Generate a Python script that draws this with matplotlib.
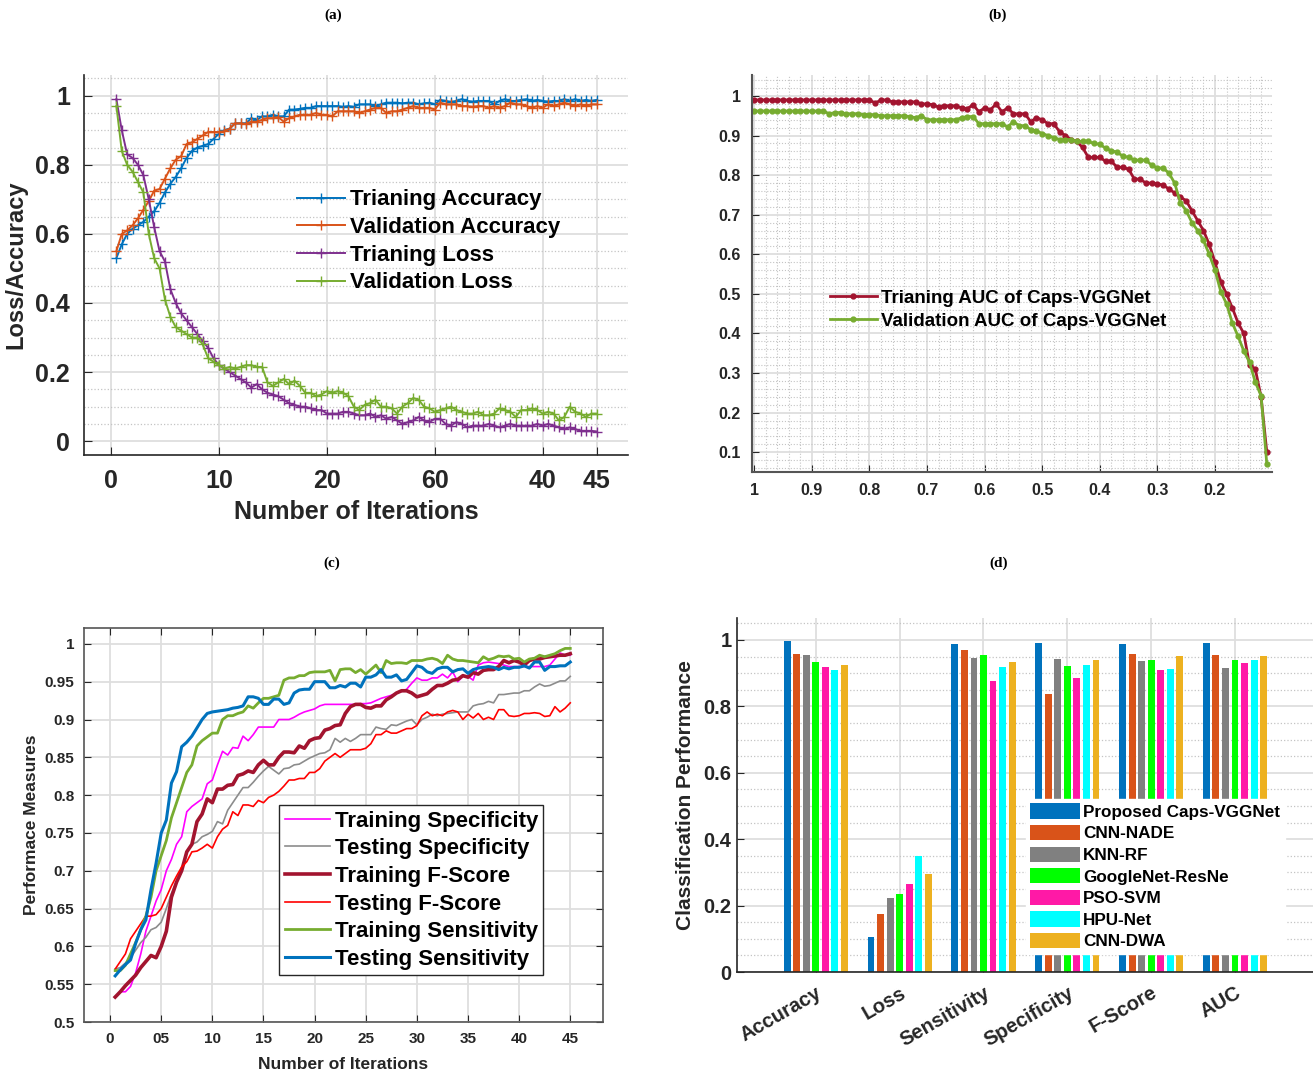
import numpy as np
import matplotlib
matplotlib.use("Agg")
import matplotlib.pyplot as plt
from matplotlib.ticker import MultipleLocator

plt.rcParams['font.family'] = ['Liberation Sans', 'DejaVu Sans']
plt.rcParams['font.weight'] = 'bold'
plt.rcParams['axes.labelweight'] = 'bold'

TXT = '#262626'
GRID = '#dedede'
MINOR = '#c4c4c4'

# ---------------- (a) loss / accuracy ----------------
iters = np.arange(0.5, 45.01, 0.5)
a_xticks = [0, 10, 20, 30, 40, 45]
a_xticklabels = ['0', '10', '20', '60', '40', '45']

train_acc = [0.53, 0.57, 0.60, 0.615, 0.625, 0.635, 0.65, 0.665, 0.69, 0.72,
             0.745, 0.765, 0.79, 0.82, 0.84, 0.85, 0.855, 0.86, 0.875, 0.89,
             0.90, 0.905, 0.92, 0.92, 0.92, 0.935, 0.93, 0.94, 0.94, 0.945,
             0.94, 0.94, 0.96, 0.96, 0.962, 0.965, 0.965, 0.97, 0.97, 0.97,
             0.97, 0.97, 0.968, 0.97, 0.968, 0.975, 0.975, 0.975, 0.97, 0.975,
             0.98, 0.98, 0.98, 0.978, 0.98, 0.98, 0.975, 0.978, 0.98, 0.975,
             0.988, 0.985, 0.982, 0.985, 0.99, 0.985, 0.983, 0.985, 0.985, 0.985,
             0.975, 0.985, 0.99, 0.985, 0.985, 0.988, 0.99, 0.985, 0.988, 0.985,
             0.983, 0.985, 0.985, 0.99, 0.985, 0.99, 0.985, 0.988, 0.985, 0.988]
val_acc = [0.55, 0.60, 0.61, 0.625, 0.645, 0.67, 0.695, 0.725, 0.73, 0.76,
           0.79, 0.815, 0.825, 0.86, 0.865, 0.875, 0.885, 0.895, 0.895, 0.895,
           0.897, 0.905, 0.92, 0.92, 0.918, 0.925, 0.925, 0.93, 0.935, 0.935,
           0.938, 0.925, 0.935, 0.94, 0.945, 0.945, 0.945, 0.95, 0.945, 0.945,
           0.94, 0.955, 0.955, 0.955, 0.955, 0.95, 0.955, 0.96, 0.965, 0.965,
           0.95, 0.955, 0.955, 0.96, 0.965, 0.97, 0.965, 0.965, 0.965, 0.96,
           0.98, 0.975, 0.975, 0.975, 0.97, 0.97, 0.968, 0.97, 0.97, 0.965,
           0.97, 0.965, 0.97, 0.98, 0.975, 0.975, 0.97, 0.965, 0.97, 0.965,
           0.975, 0.97, 0.975, 0.98, 0.975, 0.97, 0.975, 0.97, 0.975, 0.975]
train_loss = [0.99, 0.90, 0.83, 0.82, 0.80, 0.77, 0.70, 0.62, 0.55, 0.52,
              0.44, 0.40, 0.37, 0.35, 0.33, 0.31, 0.29, 0.27, 0.24, 0.22,
              0.21, 0.20, 0.19, 0.18, 0.17, 0.155, 0.165, 0.15, 0.14, 0.135,
              0.13, 0.12, 0.11, 0.105, 0.10, 0.10, 0.095, 0.09, 0.09, 0.08,
              0.08, 0.08, 0.085, 0.085, 0.08, 0.075, 0.075, 0.08, 0.07, 0.075,
              0.065, 0.07, 0.06, 0.05, 0.055, 0.06, 0.07, 0.06, 0.055, 0.065,
              0.065, 0.05, 0.045, 0.055, 0.05, 0.04, 0.045, 0.045, 0.045, 0.05,
              0.045, 0.04, 0.045, 0.05, 0.045, 0.045, 0.045, 0.045, 0.05, 0.045,
              0.05, 0.045, 0.04, 0.035, 0.04, 0.035, 0.03, 0.03, 0.03, 0.028]
val_loss = [0.97, 0.84, 0.80, 0.78, 0.75, 0.72, 0.60, 0.53, 0.50, 0.41,
            0.36, 0.33, 0.32, 0.31, 0.30, 0.30, 0.28, 0.24, 0.23, 0.22,
            0.21, 0.215, 0.21, 0.215, 0.22, 0.22, 0.215, 0.215, 0.17, 0.16,
            0.17, 0.18, 0.165, 0.175, 0.16, 0.14, 0.14, 0.13, 0.135, 0.145,
            0.14, 0.145, 0.14, 0.13, 0.10, 0.09, 0.105, 0.11, 0.12, 0.10,
            0.10, 0.095, 0.08, 0.10, 0.11, 0.125, 0.12, 0.10, 0.095, 0.085,
            0.09, 0.095, 0.10, 0.09, 0.085, 0.08, 0.08, 0.085, 0.075, 0.075,
            0.08, 0.095, 0.09, 0.085, 0.07, 0.09, 0.09, 0.095, 0.09, 0.08,
            0.085, 0.08, 0.06, 0.07, 0.10, 0.085, 0.08, 0.07, 0.08, 0.08]

# ---------------- (b) AUC ----------------
thresholds = np.round(np.arange(1.0, 0.105, -0.01), 2)
train_auc = [0.99, 0.99, 0.99, 0.99, 0.99, 0.99, 0.99, 0.99, 0.99, 0.99,
             0.99, 0.99, 0.99, 0.99, 0.99, 0.99, 0.99, 0.99, 0.99, 0.99,
             0.99, 0.982, 0.99, 0.99, 0.985, 0.985, 0.985, 0.985, 0.985, 0.98,
             0.98, 0.978, 0.972, 0.975, 0.975, 0.975, 0.97, 0.968, 0.978, 0.96,
             0.97, 0.965, 0.98, 0.96, 0.97, 0.955, 0.955, 0.955, 0.935, 0.945,
             0.94, 0.93, 0.93, 0.91, 0.90, 0.89, 0.885, 0.87, 0.845, 0.845,
             0.845, 0.835, 0.835, 0.82, 0.82, 0.815, 0.79, 0.79, 0.78, 0.78,
             0.778, 0.775, 0.765, 0.755, 0.745, 0.735, 0.71, 0.685, 0.66, 0.625,
             0.58, 0.53, 0.50, 0.465, 0.427, 0.40, 0.32, 0.31, 0.24, 0.10]
val_auc = [0.962, 0.962, 0.962, 0.962, 0.962, 0.962, 0.962, 0.962, 0.962, 0.962,
           0.962, 0.962, 0.962, 0.955, 0.958, 0.958, 0.955, 0.955, 0.955, 0.953,
           0.953, 0.953, 0.95, 0.95, 0.95, 0.95, 0.95, 0.948, 0.945, 0.95,
           0.94, 0.94, 0.94, 0.94, 0.94, 0.94, 0.945, 0.948, 0.948, 0.93,
           0.93, 0.93, 0.93, 0.93, 0.922, 0.935, 0.925, 0.925, 0.915, 0.912,
           0.905, 0.90, 0.895, 0.89, 0.89, 0.89, 0.885, 0.885, 0.885, 0.88,
           0.878, 0.868, 0.862, 0.858, 0.848, 0.845, 0.838, 0.838, 0.838, 0.825,
           0.818, 0.818, 0.805, 0.78, 0.73, 0.71, 0.68, 0.66, 0.635, 0.60,
           0.56, 0.506, 0.475, 0.427, 0.393, 0.356, 0.327, 0.277, 0.243, 0.07]

# ---------------- (c) performance measures ----------------
c_xticks = [0, 5, 10, 15, 20, 25, 30, 35, 40, 45]
c_xticklabels = ['0', '05', '10', '15', '20', '25', '30', '35', '40', '45']

train_spec = [0.533, 0.54, 0.54, 0.547, 0.565, 0.59, 0.62, 0.64, 0.66, 0.675,
              0.70, 0.715, 0.735, 0.745, 0.778, 0.785, 0.79, 0.795, 0.815, 0.82,
              0.84, 0.858, 0.853, 0.863, 0.862, 0.878, 0.872, 0.88, 0.89, 0.89,
              0.89, 0.89, 0.90, 0.90, 0.90, 0.903, 0.907, 0.91, 0.912, 0.914,
              0.918, 0.92, 0.92, 0.92, 0.92, 0.92, 0.92, 0.92, 0.921, 0.921,
              0.922, 0.925, 0.928, 0.93, 0.932, 0.935, 0.937, 0.94, 0.948, 0.955,
              0.952, 0.952, 0.955, 0.955, 0.96, 0.955, 0.963, 0.95, 0.957, 0.957,
              0.952, 0.972, 0.975, 0.976, 0.975, 0.974, 0.972, 0.97, 0.97, 0.97,
              0.97, 0.97, 0.97, 0.97, 0.97, 0.972, 0.98, 0.988, 0.985, 0.985]
test_spec = [0.57, 0.572, 0.578, 0.585, 0.595, 0.605, 0.612, 0.622, 0.625, 0.632,
             0.65, 0.67, 0.685, 0.70, 0.725, 0.735, 0.738, 0.745, 0.748, 0.752,
             0.765, 0.762, 0.78, 0.79, 0.80, 0.81, 0.81, 0.817, 0.825, 0.832,
             0.838, 0.833, 0.828, 0.835, 0.836, 0.84, 0.841, 0.845, 0.849, 0.852,
             0.855, 0.856, 0.86, 0.875, 0.87, 0.875, 0.871, 0.875, 0.88, 0.88,
             0.88, 0.89, 0.888, 0.887, 0.893, 0.892, 0.895, 0.898, 0.90, 0.893,
             0.90, 0.903, 0.907, 0.905, 0.907, 0.908, 0.909, 0.91, 0.91, 0.91,
             0.918, 0.92, 0.921, 0.924, 0.922, 0.933, 0.933, 0.934, 0.935, 0.935,
             0.938, 0.938, 0.943, 0.947, 0.944, 0.945, 0.948, 0.951, 0.951, 0.957]
train_f = [0.533, 0.54, 0.548, 0.555, 0.562, 0.572, 0.58, 0.588, 0.585, 0.60,
           0.62, 0.665, 0.685, 0.70, 0.725, 0.735, 0.765, 0.775, 0.795, 0.79,
           0.808, 0.808, 0.813, 0.814, 0.826, 0.828, 0.832, 0.83, 0.84, 0.846,
           0.84, 0.84, 0.85, 0.857, 0.857, 0.856, 0.865, 0.862, 0.872, 0.875,
           0.876, 0.886, 0.888, 0.892, 0.893, 0.908, 0.917, 0.92, 0.92, 0.916,
           0.915, 0.918, 0.918, 0.926, 0.93, 0.935, 0.938, 0.938, 0.935, 0.93,
           0.932, 0.934, 0.94, 0.945, 0.945, 0.948, 0.952, 0.953, 0.958, 0.956,
           0.962, 0.96, 0.965, 0.966, 0.966, 0.97, 0.978, 0.975, 0.978, 0.976,
           0.972, 0.978, 0.98, 0.98, 0.982, 0.983, 0.984, 0.985, 0.985, 0.987]
test_f = [0.57, 0.58, 0.59, 0.61, 0.62, 0.63, 0.64, 0.64, 0.642, 0.65,
          0.665, 0.68, 0.693, 0.705, 0.712, 0.725, 0.726, 0.73, 0.735, 0.73,
          0.745, 0.755, 0.76, 0.778, 0.773, 0.787, 0.787, 0.785, 0.793, 0.79,
          0.797, 0.80, 0.805, 0.812, 0.82, 0.82, 0.822, 0.822, 0.83, 0.83,
          0.835, 0.845, 0.85, 0.855, 0.85, 0.855, 0.86, 0.86, 0.86, 0.862,
          0.868, 0.88, 0.88, 0.885, 0.882, 0.882, 0.885, 0.888, 0.888, 0.892,
          0.905, 0.91, 0.905, 0.907, 0.905, 0.91, 0.912, 0.91, 0.90, 0.907,
          0.902, 0.908, 0.90, 0.903, 0.90, 0.913, 0.913, 0.905, 0.904, 0.905,
          0.908, 0.908, 0.909, 0.908, 0.904, 0.905, 0.917, 0.91, 0.915, 0.922]
train_sens = [0.568, 0.568, 0.575, 0.59, 0.605, 0.622, 0.64, 0.665, 0.70, 0.72,
              0.74, 0.77, 0.79, 0.81, 0.83, 0.84, 0.865, 0.872, 0.877, 0.882,
              0.882, 0.90, 0.905, 0.905, 0.908, 0.91, 0.918, 0.915, 0.922, 0.928,
              0.928, 0.93, 0.932, 0.952, 0.955, 0.955, 0.958, 0.958, 0.962, 0.963,
              0.963, 0.963, 0.965, 0.951, 0.966, 0.967, 0.967, 0.962, 0.966, 0.96,
              0.966, 0.972, 0.962, 0.978, 0.974, 0.975, 0.975, 0.974, 0.978, 0.978,
              0.978, 0.98, 0.981, 0.979, 0.974, 0.985, 0.98, 0.978, 0.978, 0.977,
              0.976, 0.975, 0.983, 0.979, 0.981, 0.984, 0.983, 0.984, 0.98, 0.981,
              0.976, 0.98, 0.981, 0.985, 0.983, 0.985, 0.987, 0.991, 0.994, 0.994]
test_sens = [0.561, 0.569, 0.576, 0.582, 0.604, 0.622, 0.635, 0.675, 0.71, 0.75,
             0.767, 0.816, 0.831, 0.864, 0.87, 0.878, 0.889, 0.90, 0.908, 0.91,
             0.911, 0.912, 0.913, 0.915, 0.916, 0.918, 0.93, 0.93, 0.928, 0.92,
             0.92, 0.927, 0.927, 0.92, 0.922, 0.935, 0.939, 0.94, 0.94, 0.95,
             0.95, 0.95, 0.942, 0.942, 0.945, 0.943, 0.948, 0.948, 0.943, 0.956,
             0.956, 0.959, 0.966, 0.956, 0.956, 0.959, 0.951, 0.953, 0.962, 0.971,
             0.969, 0.963, 0.961, 0.967, 0.969, 0.969, 0.963, 0.966, 0.967, 0.961,
             0.966, 0.968, 0.969, 0.97, 0.969, 0.966, 0.969, 0.967, 0.969, 0.969,
             0.971, 0.968, 0.976, 0.976, 0.965, 0.97, 0.97, 0.971, 0.971, 0.976]

# ---------------- (d) comparison bars ----------------
metrics = ['Accuracy', 'Loss', 'Sensitivity', 'Specificity', 'F-Score', 'AUC']
models = ['Proposed Caps-VGGNet', 'CNN-NADE', 'KNN-RF', 'GoogleNet-ResNe',
          'PSO-SVM', 'HPU-Net', 'CNN-DWA']
caps_vgg = [0.998, 0.104, 0.987, 0.992, 0.987, 0.992]
cnn_nade = [0.958, 0.174, 0.970, 0.836, 0.958, 0.956]
knn_rf = [0.954, 0.222, 0.946, 0.943, 0.936, 0.916]
googlenet_resnet = [0.934, 0.234, 0.955, 0.920, 0.940, 0.940]
pso_svm = [0.918, 0.266, 0.875, 0.885, 0.909, 0.929]
hpu_net = [0.910, 0.349, 0.918, 0.925, 0.911, 0.941]
cnn_dwa = [0.924, 0.294, 0.933, 0.941, 0.952, 0.952]
bar_colors = ['#0072BD', '#D95319', '#808080', '#00FF00', '#FF19A6', '#00FFFF', '#EDB120']


def style_ticks(ax, size):
    for lab in ax.get_xticklabels() + ax.get_yticklabels():
        lab.set_fontweight('bold')
        lab.set_fontsize(size)
        lab.set_color(TXT)


fig = plt.figure(figsize=(13.13, 10.71), dpi=100)
W, H = 1313.0, 1071.0


def px_axes(left, top, right, bottom):
    return fig.add_axes([left / W, 1 - bottom / H, (right - left) / W, (bottom - top) / H])


# ---- (a)
ax = px_axes(84, 75, 628, 455)
ax.plot(iters, train_acc, color='#0072BD', lw=1.4, marker='+', ms=6.5, mew=1, label='Trianing Accuracy')
ax.plot(iters, val_acc, color='#D95319', lw=1.4, marker='+', ms=6.5, mew=1, label='Validation Accuracy')
ax.plot(iters, train_loss, color='#7E2F8E', lw=1.4, marker='+', ms=6.5, mew=1, label='Trianing Loss')
ax.plot(iters, val_loss, color='#77AC30', lw=1.4, marker='+', ms=6.5, mew=1, label='Validation Loss')
ax.set_xlim(-2.5, 47.9)
ax.set_ylim(-0.04, 1.06)
ax.set_xticks(a_xticks)
ax.set_xticklabels(a_xticklabels)
ax.set_yticks([0, 0.2, 0.4, 0.6, 0.8, 1])
ax.set_yticklabels(['0', '0.2', '0.4', '0.6', '0.8', '1'])
ax.yaxis.set_minor_locator(MultipleLocator(0.05))
ax.grid(True, which='major', color=GRID, lw=1.3)
ax.grid(True, which='minor', axis='y', color=MINOR, lw=0.9, ls=':')
ax.set_axisbelow(True)
ax.tick_params(which='both', direction='in', length=6, color=TXT, pad=10)
ax.tick_params(which='minor', length=0)
for s in ['top', 'right']:
    ax.spines[s].set_visible(False)
for s in ['left', 'bottom']:
    ax.spines[s].set_color(TXT)
    ax.spines[s].set_linewidth(1.2)
style_ticks(ax, 18)
ax.set_xlabel('Number of Iterations', fontsize=18, color=TXT, labelpad=5)
ax.set_ylabel('Loss/Accuracy', fontsize=17, color=TXT, labelpad=6)
ax.legend(loc='upper left', bbox_to_anchor=(293 / W, 1 - 185 / H), bbox_transform=fig.transFigure,
          frameon=False, prop={'size': 16, 'weight': 'bold'}, handlelength=2.15,
          handletextpad=0.2, labelspacing=0.3, borderaxespad=0, borderpad=0.2)

# ---- (b)
ax = px_axes(752, 75, 1272, 472)
ax.plot(thresholds, train_auc, color='#A2142F', lw=2, marker='.', ms=7, label='Trianing AUC of Caps-VGGNet')
ax.plot(thresholds, val_auc, color='#77AC30', lw=2, marker='.', ms=7, label='Validation AUC of Caps-VGGNet')
ax.set_xlim(1.004, 0.101)
ax.set_ylim(0.05, 1.053)
ax.set_xticks([1, 0.9, 0.8, 0.7, 0.6, 0.5, 0.4, 0.3, 0.2])
ax.set_xticklabels(['1', '0.9', '0.8', '0.7', '0.6', '0.5', '0.4', '0.3', '0.2'])
ax.set_yticks([0.1, 0.2, 0.3, 0.4, 0.5, 0.6, 0.7, 0.8, 0.9, 1])
ax.set_yticklabels(['0.1', '0.2', '0.3', '0.4', '0.5', '0.6', '0.7', '0.8', '0.9', '1'])
ax.xaxis.set_minor_locator(MultipleLocator(0.02))
ax.yaxis.set_minor_locator(MultipleLocator(0.02))
ax.grid(True, which='major', color=GRID, lw=1.3)
ax.grid(True, which='minor', color=MINOR, lw=0.8, ls=':')
ax.set_axisbelow(True)
ax.tick_params(which='major', direction='in', length=5, color=TXT, pad=8)
ax.tick_params(which='minor', length=0)
for s in ['top', 'right']:
    ax.spines[s].set_visible(False)
for s in ['left', 'bottom']:
    ax.spines[s].set_color('#555555')
    ax.spines[s].set_linewidth(1.5)
style_ticks(ax, 11.5)
ax.legend(loc='upper left', bbox_to_anchor=(826 / W, 1 - 286 / H), bbox_transform=fig.transFigure,
          frameon=False, prop={'size': 13.5, 'weight': 'bold'}, handlelength=2.5,
          handletextpad=0.25, labelspacing=0.3, borderaxespad=0, borderpad=0.2)

# ---- (c)
ax = px_axes(84, 628, 603, 1022)
ax.plot(iters, train_spec, color='#FF00FF', lw=1.2, label='Training Specificity')
ax.plot(iters, test_spec, color='#8c8c8c', lw=1.2, label='Testing Specificity')
ax.plot(iters, train_f, color='#A2142F', lw=2.6, label='Training F-Score')
ax.plot(iters, test_f, color='#FF0000', lw=1.2, label='Testing F-Score')
ax.plot(iters, train_sens, color='#77AC30', lw=2.0, label='Training Sensitivity')
ax.plot(iters, test_sens, color='#0072BD', lw=2.2, label='Testing Sensitivity')
ax.set_xlim(-2.55, 48.2)
ax.set_ylim(0.5, 1.021)
ax.set_xticks(c_xticks)
ax.set_xticklabels(c_xticklabels)
ax.set_yticks([0.5, 0.55, 0.6, 0.65, 0.7, 0.75, 0.8, 0.85, 0.9, 0.95, 1])
ax.set_yticklabels(['0.5', '0.55', '0.6', '0.65', '0.7', '0.75', '0.8', '0.85', '0.9', '0.95', '1'])
ax.grid(True, which='major', color=GRID, lw=1.3)
ax.set_axisbelow(True)
ax.tick_params(which='major', direction='in', length=5, color=TXT, pad=7, top=True, right=True)
for s in ax.spines.values():
    s.set_color('#555555')
    s.set_linewidth(1.2)
style_ticks(ax, 11)
ax.set_xlabel('Number of Iterations', fontsize=12.5, color=TXT, labelpad=8)
ax.set_ylabel('Performace Measures', fontsize=12.5, color=TXT, labelpad=4)
leg = ax.legend(loc='upper left', bbox_to_anchor=(279 / W, 1 - 805 / H), bbox_transform=fig.transFigure,
                frameon=True, fancybox=False, prop={'size': 16, 'weight': 'bold'}, handlelength=2.05,
                handletextpad=0.2, labelspacing=0.3, borderaxespad=0, borderpad=0.25)
leg.get_frame().set_edgecolor('#262626')
leg.get_frame().set_linewidth(1.0)
leg.get_frame().set_alpha(1)

# ---- (d)
ax = px_axes(737, 618, 1313, 972)
pos = np.arange(1, len(metrics) + 1)
series = [caps_vgg, cnn_nade, knn_rf, googlenet_resnet, pso_svm, hpu_net, cnn_dwa]
for k, (vals, name, col) in enumerate(zip(series, models, bar_colors)):
    ax.bar(pos + (k - 3) * 0.114, vals, width=0.082, color=col, label=name, zorder=2)
ax.set_xlim(0.06, 6.93)
ax.set_ylim(0, 1.066)
ax.set_xticks(pos)
ax.set_xticklabels(metrics, rotation=30, ha='right', rotation_mode='anchor')
ax.set_yticks([0, 0.2, 0.4, 0.6, 0.8, 1])
ax.set_yticklabels(['0', '0.2', '0.4', '0.6', '0.8', '1'])
ax.yaxis.set_minor_locator(MultipleLocator(0.05))
ax.grid(True, which='major', color=GRID, lw=1.3)
ax.grid(True, which='minor', axis='y', color=MINOR, lw=0.9, ls=':')
ax.set_axisbelow(True)
ax.tick_params(which='major', direction='in', length=5, color=TXT, pad=8)
ax.tick_params(axis='y', which='major', pad=4)
ax.tick_params(which='minor', length=0)
for s in ['top', 'right']:
    ax.spines[s].set_visible(False)
for s in ['left', 'bottom']:
    ax.spines[s].set_color(TXT)
    ax.spines[s].set_linewidth(1.2)
style_ticks(ax, 14.5)
ax.set_ylabel('Classification Performance', fontsize=15, color=TXT, labelpad=6)
leg = ax.legend(loc='upper left', bbox_to_anchor=(1026 / W, 1 - 799 / H), bbox_transform=fig.transFigure,
                frameon=True, fancybox=False, prop={'size': 12.3, 'weight': 'bold'}, handlelength=2.9,
                handleheight=1.0, handletextpad=0.2, labelspacing=0.3, borderaxespad=0, borderpad=0.25)
leg.get_frame().set_edgecolor('white')
leg.get_frame().set_alpha(1)
leg.set_zorder(5)

# panel captions
for label, x, y in [('(a)', 333, 15), ('(b)', 998, 15), ('(c)', 332, 563), ('(d)', 999, 563)]:
    fig.text(x / W, 1 - y / H, label, ha='center', va='center', fontsize=11,
             fontweight='bold', family=['Liberation Serif', 'DejaVu Serif'])

fig.savefig('out.png', dpi=100)
